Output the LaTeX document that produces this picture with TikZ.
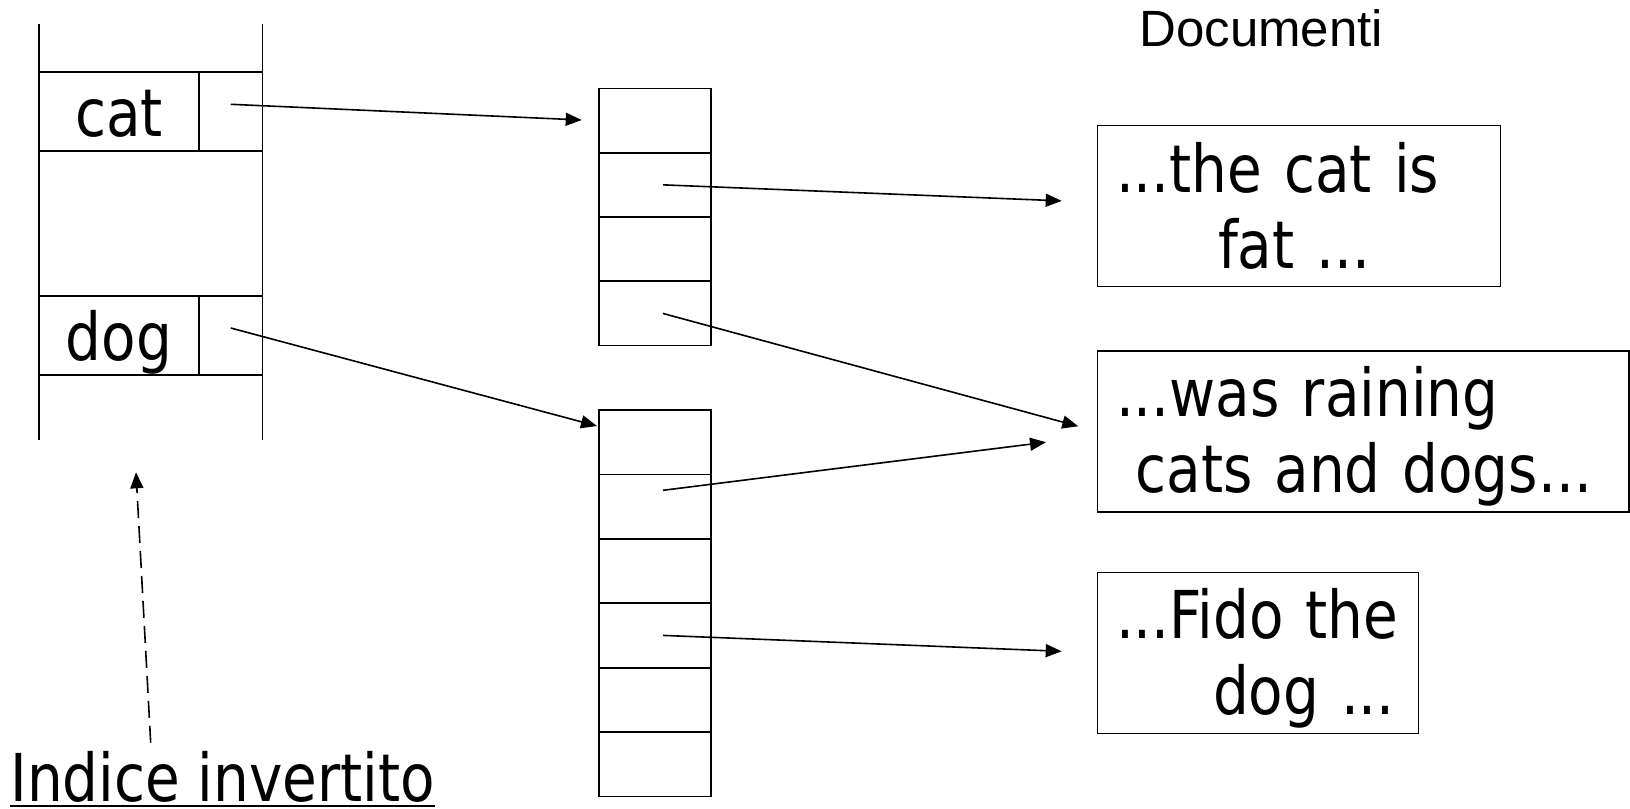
\documentclass[tikz,border=0pt]{standalone}
\usepackage{fontspec}
\usetikzlibrary{arrows.meta}
\setmainfont{DejaVu Sans Condensed}
\newfontfamily\tahoma[FakeStretch=0.95]{DejaVu Sans Condensed}
\newfontfamily\arialfont{Liberation Sans}
\newcommand{\thickul}[1]{\vtop{\hbox{#1}\kern1.4pt\hrule height 0.9pt}}

\begin{document}
\begin{tikzpicture}[x=0.5pt, y=-0.5pt,
  cellbox/.style = {draw, line width=0.85pt, inner sep=0pt},
  term/.style = {cellbox, minimum width=80pt, minimum height=39.5pt,
    text height=25pt, text depth=0pt, font=\tahoma\fontsize{33}{38}\selectfont},
  cell/.style = {cellbox, minimum width=56pt, minimum height=32.15pt},
  doc/.style = {draw, line width=0.75pt, align=left, inner xsep=9.25pt,
    inner ysep=0pt, minimum height=80.4pt, font=\tahoma\fontsize{33}{38}\selectfont},
  ptr/.style = {line width=0.8pt, -{Triangle[length=8pt,width=6.5pt]}}]

\useasboundingbox (0,0) rectangle (1630,809);

% Index table
\draw[line width=0.85pt] (39,24) -- (39,440);
\draw[line width=0.85pt] (262.5,24) -- (262.5,440);
\node[term] (cat) at (119,111.7) {cat};
\node[cellbox, minimum width=31.75pt, minimum height=39.5pt] (catptr) at (230.75,111.7) {};
\node[term] (dog) at (119,335.7) {dog};
\node[cellbox, minimum width=31.75pt, minimum height=39.5pt] (dogptr) at (230.75,335.7) {};

% Posting lists
\foreach \i in {1,...,4}
  \node[cell] (pa\i) at (655,{88.4+64.3*(\i-0.5)}) {};
\foreach \i in {1,...,6}
  \node[cell] (pb\i) at (655,{410+64.4*(\i-0.5)}) {};

% Documents
\node[font=\arialfont\fontsize{25.5}{30}\selectfont, anchor=base west, inner sep=0pt]
  (doclabel) at (1139,46.7) {Documenti};
\node[doc, text width=182.9pt] (d1) at (1298.9,205.9)
  {\rule{0pt}{30pt}\mbox{...the cat is}\\\hspace*{51pt}fat ...\rule[-5pt]{0pt}{5pt}};
\node[doc, text width=247.2pt] (d2) at (1363.2,431.5)
  {\rule{0pt}{30pt}\mbox{...was raining}\\\hspace*{9.75pt}\mbox{cats and dogs...}\rule[-5pt]{0pt}{5pt}};
\node[doc, text width=142pt] (d3) at (1258,653)
  {\rule{0pt}{30pt}\mbox{...Fido the}\\\hspace*{48.5pt}dog ...\rule[-5pt]{0pt}{5pt}};

\node[anchor=base west, inner sep=0pt, font=\tahoma\fontsize{33}{38}\selectfont]
  (inv) at (10,801.7) {\thickul{Indice invertito}};

% Arrow ends
\coordinate (inA) at (581.7,120);
\coordinate (inB) at (597,426);
\coordinate (inD1) at (1061.7,200.9);
\coordinate (inD2a) at (1078.3,426.3);
\coordinate (inD2b) at (1046,442.2);
\coordinate (inD3) at (1061.7,651.3);
\coordinate (idx) at (136,472.3);

\draw[ptr] ([yshift=3.7pt]catptr.center) -- (inA);
\draw[ptr] ([yshift=3.85pt]dogptr.center) -- (inB);
\draw[ptr] ([xshift=4pt]pa2.center) -- (inD1);
\draw[ptr] ([xshift=4pt]pa4.center) -- (inD2a);
\draw[ptr] ([xshift=4pt,yshift=8.15pt]pb2.center) -- (inD2b);
\draw[ptr] ([xshift=4pt]pb4.center) -- (inD3);
\draw[ptr, dash pattern=on 8.5pt off 4pt] ([xshift=70.35pt,yshift=4.2pt]inv.north west) -- (idx);
\end{tikzpicture}
\end{document}
